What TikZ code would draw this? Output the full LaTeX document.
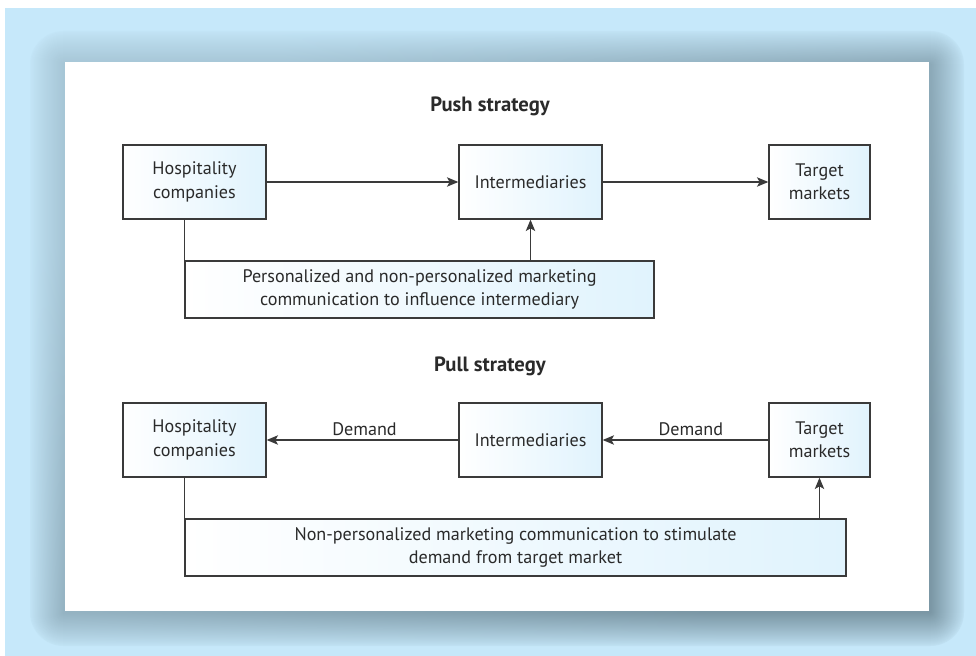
\documentclass[tikz,border=0pt]{standalone}
\usepackage{fontspec}
\setmainfont{PT Sans}
\usetikzlibrary{arrows.meta}
\definecolor{bgblue}{HTML}{C6E8FA}
\definecolor{shdark}{HTML}{7B97A5}
\definecolor{boxblue}{HTML}{E0F3FD}
\definecolor{linegray}{HTML}{3A3A3A}
\definecolor{txt}{HTML}{2A2A2A}
\tikzset{
  box/.style={draw=linegray, line width=1pt, left color=white, right color=boxblue,
    align=center, inner sep=0pt, text=txt, font=\fontsize{13.6}{17.5}\selectfont},
  conn/.style={draw=linegray, line width=1pt},
  arr/.style={conn, -{Stealth[length=8.5pt,width=7pt,inset=2pt]}},
  title/.style={font=\bfseries\fontsize{15.5}{18}\selectfont, text=txt},
  lbl/.style={font=\fontsize{13.6}{16}\selectfont, text=txt, inner sep=3pt}
}
\begin{document}
\begin{tikzpicture}[x=0.75pt,y=-0.75pt]
\useasboundingbox (0,0) rectangle (976,656);
\fill[white] (0,0) rectangle (976,656);
\fill[bgblue] (5,8) rectangle (976,656);
% soft shadow round the panel, darker to the lower right
\foreach \d in {33,32,...,0}{
  \pgfmathsetmacro\f{0.05+0.95*(1-\d/34)^0.85}
  \pgfmathsetmacro\fa{42*\f}
  \pgfmathsetmacro\fb{100*\f}
  \pgfmathsetmacro\r{\d*0.75+0.5}
  \path[top color=shdark!\fa!bgblue, bottom color=shdark!\fb!bgblue, shading angle=40,
        rounded corners=\r pt] (63-\d, 64-\d) rectangle (931+\d, 613+\d);
}
\fill[white] (65,62) rectangle (929,611);
% push strategy
\node[title] (pushT) at (490,106) {Push strategy};
\node[box, minimum width=107.25pt, minimum height=55.5pt] (hosp1) at (194.5,182) {Hospitality\\companies};
\node[box, minimum width=107.25pt, minimum height=55.5pt] (int1) at (530.5,182) {Intermediaries};
\node[box, minimum width=75.75pt, minimum height=55.5pt] (tgt1) at (819.5,182) {Target\\markets};
\node[box, minimum width=351.75pt, minimum height=42.75pt] (comm1) at (419.5,289.5) {Personalized and non-personalized marketing\\communication to influence intermediary};
\draw[arr] (hosp1) -- (int1);
\draw[arr] (int1) -- (tgt1);
\draw[conn] (comm1.west |- hosp1.south) -- (comm1.north west);
\draw[arr] (int1.south |- comm1.north) -- (int1.south);
% pull strategy
\node[title] (pullT) at (490,366) {Pull strategy};
\node[box, minimum width=107.25pt, minimum height=55.5pt] (hosp2) at (194.5,440) {Hospitality\\companies};
\node[box, minimum width=107.25pt, minimum height=55.5pt] (int2) at (530.5,440) {Intermediaries};
\node[box, minimum width=75.75pt, minimum height=55.5pt] (tgt2) at (819.5,440) {Target\\markets};
\node[box, minimum width=495.75pt, minimum height=42.75pt] (comm2) at (515.5,547.5) {Non-personalized marketing communication to stimulate\\demand from target market};
\draw[arr] (int2) -- node[lbl, above, xshift=1.5pt] {Demand} (hosp2);
\draw[arr] (tgt2) -- node[lbl, above, xshift=4pt] {Demand} (int2);
\draw[conn] (comm2.west |- hosp2.south) -- (comm2.north west);
\draw[arr] (comm2.north -| tgt2.south) -- (tgt2.south);
\end{tikzpicture}
\end{document}
